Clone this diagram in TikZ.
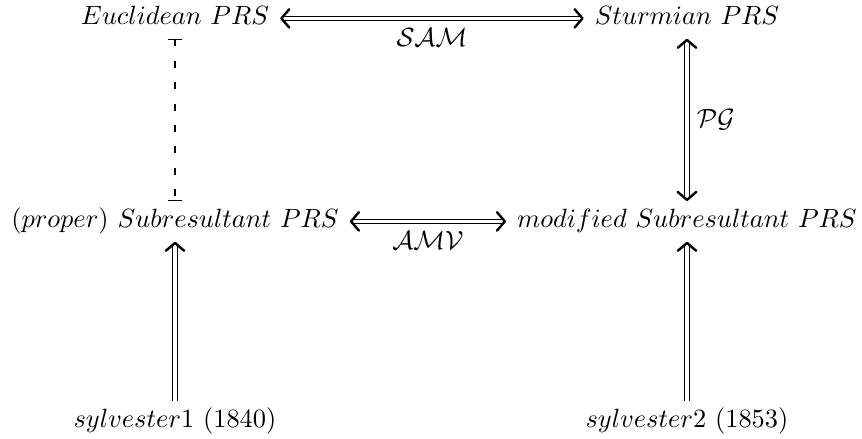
\documentclass[tikz,border=0pt]{standalone}
\usetikzlibrary{arrows.meta}
\begin{document}
\begin{tikzpicture}[x=0.3788pt,y=-0.3788pt,
  cell/.style={inner xsep=4pt, inner ysep=3pt, text height=7pt, text depth=2pt},
  tip/.tip={Straight Barb[length=3pt, width=7pt, line width=0.9pt, round]},
  dbl/.style={double, double distance=1.2pt, line width=0.4pt},
  both/.style={dbl, {tip}-{tip}},
  up/.style={dbl, -{tip}},
  lbl/.style={inner sep=3.5pt, font=\normalsize}]
\useasboundingbox (0,0) rectangle (862,439);
\node[cell] (E) at (175,18.4) {$Euclidean\ PRS$};
\node[cell] (S) at (687,18.4) {$Sturmian\ PRS$};
\node[cell] (P) at (175,221.4) {$(proper)\ Subresultant\ PRS$};
\node[cell] (M) at (687,221.4) {$modified\ Subresultant\ PRS$};
\node[cell] (Y1) at (175,421.4) {$sylvester1\ (1840)$};
\node[cell] (Y2) at (687,421.4) {$sylvester2\ (1853)$};
\draw[both] (E) -- node[lbl, below] {$\mathcal{SAM}$} (S);
\draw[both] (S) -- node[lbl, right] {$\mathcal{PG}$} (M);
\draw[both] (P) -- node[lbl, below] {$\mathcal{AMV}$} (M);
\draw[line width=0.4pt, dash pattern=on 2.6pt off 5.5pt, {Bar[width=5pt]}-{Bar[width=5pt]}] (E) -- (P);
\draw[up] (Y1) -- (P);
\draw[up] (Y2) -- (M);
\end{tikzpicture}
\end{document}
